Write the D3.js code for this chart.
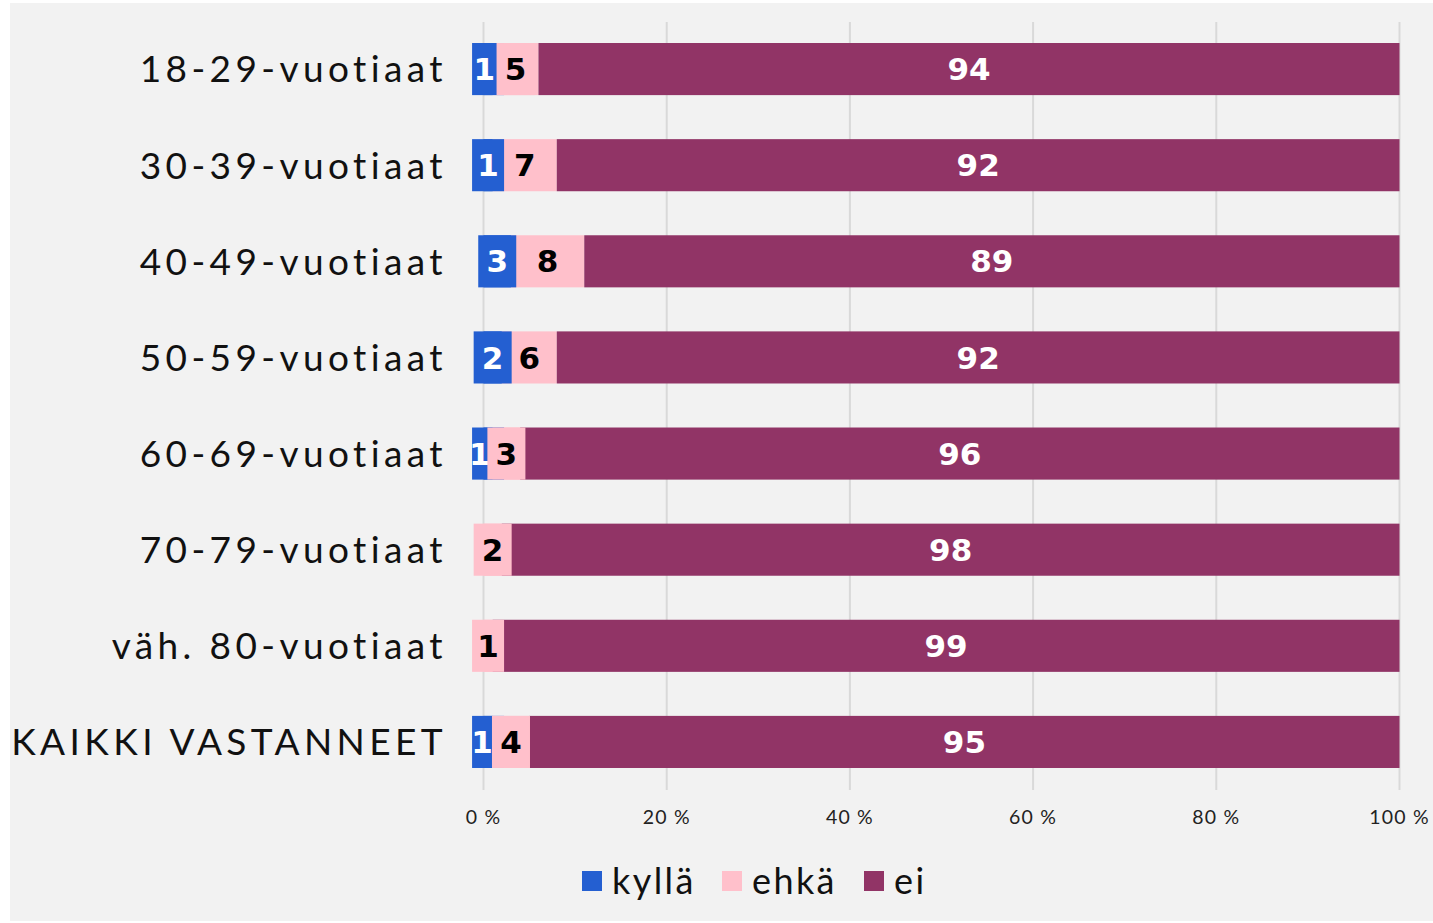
<!DOCTYPE html>
<html>
<head>
<meta charset="utf-8">
<script src="https://cdn.jsdelivr.net/npm/d3@7"></script>
<style>
  body { margin: 0; background: #fff; }
  svg { display: block; }
</style>
</head>
<body>
<div id="chart"></div>
<script>
const groups = ["18-29-vuotiaat", "30-39-vuotiaat", "40-49-vuotiaat", "50-59-vuotiaat",
  "60-69-vuotiaat", "70-79-vuotiaat", "väh. 80-vuotiaat", "KAIKKI VASTANNEET"];
const kylla = [1, 1, 3, 2, 1, 0, 0, 1];
const ehka = [5, 7, 8, 6, 3, 2, 1, 4];
const ei = [94, 92, 89, 92, 96, 98, 99, 95];
const seriesNames = ["kyllä", "ehkä", "ei"];
const seriesColors = ["#245fd1", "#ffc0cb", "#913466"];
const labelColors = ["#fff", "#000", "#fff"];
const ticks = [0, 20, 40, 60, 80, 100];

const W = 1433, H = 923;
const labelFont = "'DejaVu Sans', sans-serif";
const svg = d3.select("#chart").append("svg").attr("width", W).attr("height", H);

svg.append("rect").attr("x", 10).attr("y", 3).attr("width", W - 10).attr("height", 918)
  .attr("fill", "#f2f2f2");

const x = d3.scaleLinear().domain([0, 100]).range([483.5, 1399.5]);
const y = d3.scaleBand().domain(groups).range([21, 790]).paddingInner(0.458).paddingOuter(0.229);

// gridlines
svg.append("g").selectAll("line").data(ticks).join("line")
  .attr("x1", d => x(d)).attr("x2", d => x(d))
  .attr("y1", 22).attr("y2", 790)
  .attr("stroke", "#d9d9d9").attr("stroke-width", 2);

// tick labels
svg.append("g").selectAll("text").data(ticks).join("text")
  .attr("x", d => x(d)).attr("y", 824)
  .attr("text-anchor", "middle")
  .style("font-family", "Lato, sans-serif").style("font-size", "19.5px").style("letter-spacing", "1.2px")
  .attr("fill", "#222")
  .text(d => d + " %");

// category labels
svg.append("g").selectAll("text").data(groups).join("text")
  .attr("x", 447).attr("y", d => y(d) + y.bandwidth() / 2)
  .attr("dy", "0.36em")
  .attr("text-anchor", "end")
  .style("font-family", "Lato, sans-serif").style("font-size", "37px").style("letter-spacing", "4.4px")
  .attr("fill", "#111")
  .text(d => d);

const rows = groups.map((g, i) => {
  const vals = [kylla[i], ehka[i], ei[i]];
  let acc = 0;
  return vals.map((v, s) => {
    const seg = { group: g, s, v, x0: acc, x1: acc + v };
    acc += v;
    return seg;
  });
});

const barG = svg.append("g");
// plain segments
rows.forEach(segs => {
  barG.selectAll(null).data(segs.filter(d => d.v > 0)).join("rect")
    .attr("x", d => x(d.x0)).attr("y", d => y(d.group))
    .attr("width", d => x(d.x1) - x(d.x0)).attr("height", y.bandwidth())
    .attr("fill", d => seriesColors[d.s]);
});

// label boxes for narrow segments, drawn together with their labels
const labG = svg.append("g");
rows.forEach(segs => {
  const shown = segs.filter(d => d.v > 0);
  shown.forEach(d => {
    const cx = (x(d.x0) + x(d.x1)) / 2;
    const segW = x(d.x1) - x(d.x0);
    d.boxed = d.s < 2 && segW < 50;
    const bw = d.boxed ? (d.v === 1 ? 32 : 38) : segW;
    d.bx0 = d.boxed ? cx - bw / 2 : x(d.x0);
    d.bx1 = d.boxed ? cx + bw / 2 : x(d.x1);
  });
  shown.forEach((d, k) => {
    const next = shown[k + 1];
    const right = next && next.boxed ? Math.min(d.bx1, next.bx0) : d.bx1;
    if (d.boxed) {
      labG.append("rect")
        .attr("x", d.bx0).attr("y", y(d.group))
        .attr("width", d.bx1 - d.bx0).attr("height", y.bandwidth())
        .attr("fill", seriesColors[d.s]);
    }
    labG.append("text")
      .attr("x", (d.bx0 + right) / 2)
      .attr("y", y(d.group) + y.bandwidth() / 2)
      .attr("dy", "0.36em")
      .attr("text-anchor", "middle")
      .style("font-family", labelFont).style("font-weight", 700).style("font-size", "31px")
      .attr("fill", labelColors[d.s])
      .text(d.v);
  });
});

// legend
const legendX = [582, 722, 864];
const leg = svg.append("g").selectAll("g").data(seriesNames).join("g")
  .attr("transform", (d, i) => `translate(${legendX[i]},871)`);
leg.append("rect").attr("width", 20).attr("height", 20).attr("fill", (d, i) => seriesColors[i]);
leg.append("text").attr("x", 30).attr("y", 10).attr("dy", "0.36em")
  .style("font-family", "Lato, sans-serif").style("font-size", "36px").style("letter-spacing", "2.4px")
  .attr("fill", "#111")
  .text(d => d);
</script>
</body>
</html>
